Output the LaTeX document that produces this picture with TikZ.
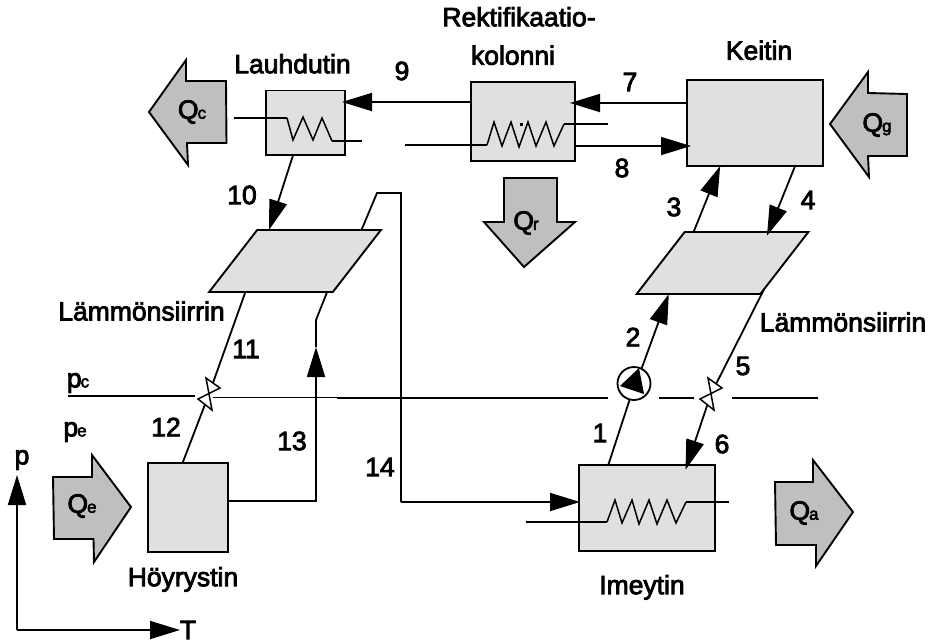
\documentclass[tikz,border=0pt]{standalone}
\usepackage{fontspec}
\setmainfont{Liberation Sans}
\newfontfamily\labfont{Liberation Sans}[FakeBold=3]
\usetikzlibrary{positioning, arrows.meta, shapes.geometric}
\newcommand{\subl}[2]{#1\kern-1pt{\fontsize{17}{17}\selectfont #2}}
\begin{document}
\begin{tikzpicture}[
  x=1pt, y=-1pt,
  font=\labfont\fontsize{26.5}{30}\selectfont,
  unit/.style={draw, line width=1.9pt, fill=black!12, inner sep=0pt, outer sep=0pt},
  hx/.style={unit, shape=trapezium, trapezium left angle=59, trapezium right angle=121,
    trapezium stretches=true, minimum width=172pt, minimum height=62pt},
  pipe/.style={line width=1.8pt},
  arrow/.style={pipe, -{Triangle[length=30pt,width=18pt]}},
  coil/.style={line width=1.5pt, line join=miter},
  heat/.style={draw, line width=1.9pt, fill=black!25},
  lab/.style={inner sep=0pt, outer sep=0pt},
]
  \useasboundingbox (0,0) rectangle (930,643);

  % pressure levels
  \draw[line width=1.7pt] (68,396) -- (195,396);
  \draw[line width=1pt] (213,397) -- (340,397);
  \draw[line width=1.7pt] (337,398) -- (608,398);
  \draw[line width=1.7pt] (659,398) -- (694,398);
  \draw[line width=1.7pt] (732,398) -- (818,398);

  \node[unit, minimum width=79pt, minimum height=64.5pt] (lauh) at (305.5,122.75) {};
  \node[unit, minimum width=104pt, minimum height=79pt] (rekt) at (523,121.5) {};
  \node[unit, minimum width=136pt, minimum height=86pt] (keit) at (755,123) {};
  \node[unit, minimum width=80pt, minimum height=89pt] (hoyr) at (188,507.5) {};
  \node[unit, minimum width=136pt, minimum height=86pt] (imey) at (647,508) {};
  \node[hx] (hxl) at (295,261) {\phantom{x}};
  \node[hx] (hxr) at (722.5,263) {\phantom{x}};
  \node[draw, circle, pipe, fill=white, minimum size=33pt, inner sep=0pt, outer sep=0pt] (pump) at (634,383.5) {};

  \coordinate (t9) at (342,102);
  \coordinate (t7) at (570,103);
  \coordinate (t8) at (691,146);
  \coordinate (vl) at (209,394);
  \coordinate (vr) at (711,394);
  \coordinate (t13) at (316,347);
  \coordinate (k13) at (316,320);
  \coordinate (c13) at (316,501);
  \coordinate (k14a) at (377,193);
  \coordinate (k14b) at (401,193);
  \coordinate (c14) at (401,502);
  \coordinate (t14) at (580,502);
  \coordinate (ax0) at (17,630);
  \coordinate (axp) at (17,475);
  \coordinate (axt) at (180,630);

  \draw[arrow] (rekt.west |- t9) -- (t9);
  \draw[arrow] (keit.west |- t7) -- (t7);
  \draw[arrow] (rekt.east |- t8) -- (t8);
  \draw[arrow] (lauh.-111) -- (hxl.130);
  \draw[arrow] (hxr.133.6) -- (keit.-129.1);
  \draw[arrow, shorten >=-4pt] (keit.-47.8) -- (hxr.34.3);
  \draw[pipe] (imey.132.2) -- (pump.-105);
  \draw[arrow] (pump.63) -- (hxr.-150.4);
  \draw[pipe] (hxr.-32) -- (vr);
  \draw[arrow, shorten >=-5pt] (vr) -- (imey.47);
  \draw[pipe] (hxl.-148.2) -- (vl);
  \draw[pipe] (vl) -- (hoyr.97.7);
  \draw[arrow] (hoyr.east |- c13) -| (t13);
  \draw[pipe] (t13) -- (k13) -- (hxl.-44.1);
  \draw[pipe] (hxl.25.5) -- (k14a) -- (k14b) -- (c14);
  \draw[arrow] (c14) -- (t14);
  \draw[arrow] (ax0) -- (axp);
  \draw[arrow] (ax0) -- (axt);

  % valves and pump wheel
  \foreach \c in {vl,vr}
    \draw[line width=1.5pt, fill=white, shift={(\c)}] (-3,-16) -- (11,-6) -- (-11,5) -- (3,16) -- cycle;
  \fill (639,368) -- (644,394) -- (620,386) -- cycle;

  % coils
  \draw[pipe] (234,118) -- (287,118);
  \draw[coil] (287,118) -- (293,140) -- (303,117) -- (313,140) -- (322,118) -- (332,141);
  \draw[pipe] (332,141) -- (362,141);
  \draw[pipe] (405,145) -- (487,145);
  \draw[coil] (487,145) -- (494,122) -- (502,146) -- (511,122) -- (519,147) -- (528,122) -- (536,146) -- (546,122) -- (554,146) -- (564,124);
  \draw[pipe] (564,124) -- (608,124);
  \fill (520,123) rectangle (522.5,125.5);
  \draw[pipe] (526,522) -- (607,522);
  \draw[coil] (607,522) -- (615,500) -- (622,523) -- (632,500) -- (639,524) -- (649,500) -- (657,524) -- (667,500) -- (676,523) -- (686,502);
  \draw[pipe] (686,502) -- (729,502);

  % heat flows
  \draw[heat] (149,112) -- (186,60) -- (186,81) -- (226,81) -- (226.5,143) -- (187,143) -- (188,165) -- cycle;
  \draw[heat] (830,124) -- (868,72) -- (868,93) -- (907,94) -- (907,156) -- (868,156) -- (869,177) -- cycle;
  \draw[heat] (504,178) -- (557,178) -- (557,222) -- (575,222) -- (524,267) -- (484,222) -- (504,222) -- cycle;
  \draw[heat] (53,477) -- (92,477) -- (92,455) -- (131,507) -- (94,562) -- (93.5,539) -- (54,539) -- cycle;
  \draw[heat] (775,482) -- (813,482) -- (813,460) -- (853,512) -- (816,566) -- (816,545) -- (776,545) -- cycle;
  \node[lab] (qc) at (192,112) {\subl{Q}{c}};
  \node[lab] (qg) at (877,125) {\subl{Q}{g}};
  \node[lab] (qr) at (526,223) {\subl{Q}{r}};
  \node[lab] (qe) at (82,506) {\subl{Q}{e}};
  \node[lab] (qa) at (804,513) {\subl{Q}{a}};

  \node[lab, above=17pt of lauh, xshift=-13pt] (lauhlab) {Lauhdutin};
  \node[lab, above=17pt of rekt, xshift=-10pt] (rektlab2) {kolonni};
  \node[lab, above=19pt of rektlab2, xshift=6pt] (rektlab1) {Rektifikaatio-};
  \node[lab, above=20pt of keit, xshift=4pt] (keitlab) {Keitin};
  \node[lab, below=15pt of hoyr, xshift=-5pt] (hoyrlab) {Höyrystin};
  \node[lab, below=24pt of imey, xshift=-5pt] (imeylab) {Imeytin};
  \node[lab] (hxllab) at (141.5,311) {Lämmönsiirrin};
  \node[lab] (hxrlab) at (843,322) {Lämmönsiirrin};

  \node[lab] (n1) at (600,433) {1};
  \node[lab] (n2) at (633,337) {2};
  \node[lab] (n3) at (674,207) {3};
  \node[lab] (n4) at (808,200) {4};
  \node[lab] (n5) at (743,366) {5};
  \node[lab] (n6) at (722,444) {6};
  \node[lab] (n7) at (630,82) {7};
  \node[lab] (n8) at (622,168) {8};
  \node[lab] (n9) at (402,71) {9};
  \node[lab] (n10) at (242,195) {10};
  \node[lab] (n11) at (246,349) {11};
  \node[lab] (n12) at (166,427) {12};
  \node[lab] (n13) at (292,441) {13};
  \node[lab] (n14) at (380,467) {14};

  \node[lab] (pc) at (78,383) {\subl{p}{c}};
  \node[lab] (pe) at (75,432) {\subl{p}{e}};
  \node[lab] (plab) at (22,460) {p};
  \node[lab] (tlab) at (188,630) {T};
\end{tikzpicture}
\end{document}
